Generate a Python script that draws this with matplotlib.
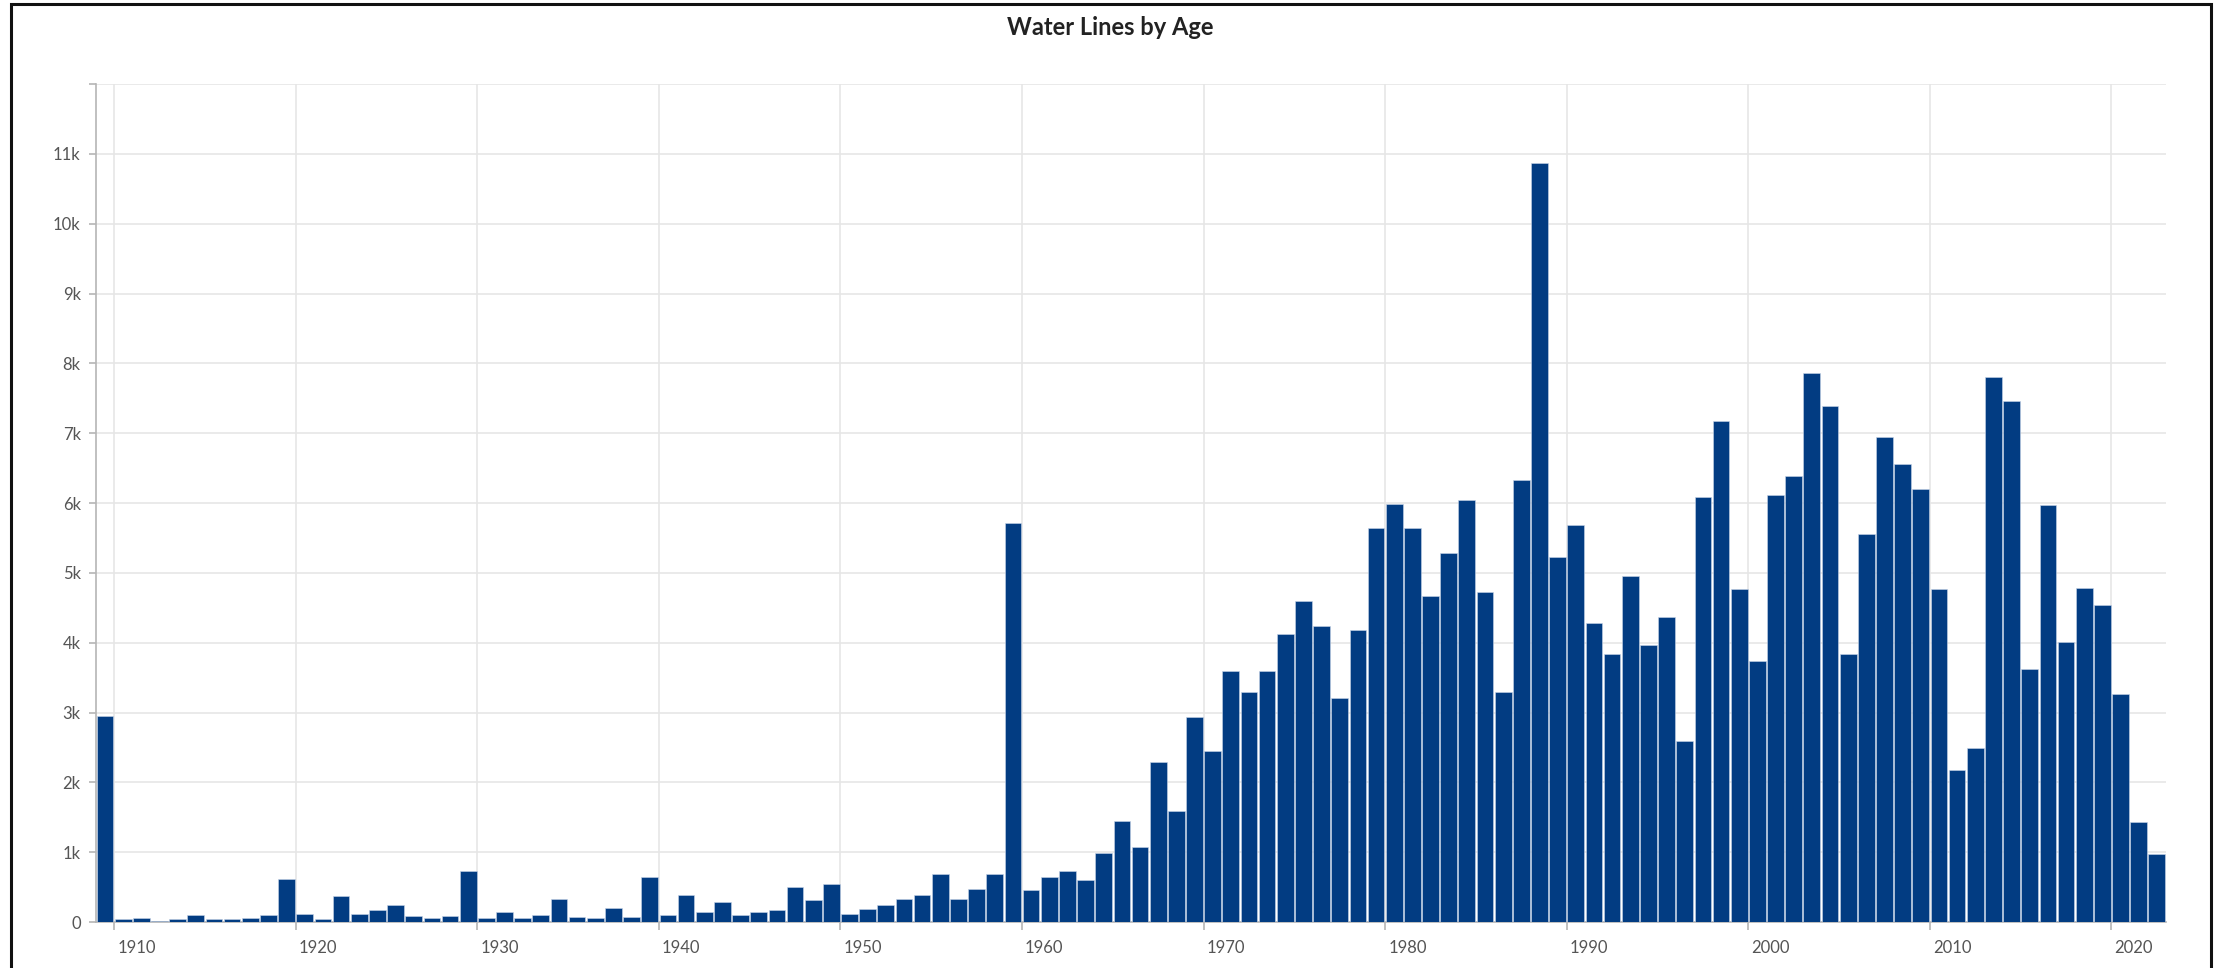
import numpy as np
import matplotlib
matplotlib.use("Agg")
import matplotlib.pyplot as plt
import matplotlib.transforms as mtransforms
from matplotlib.patches import Rectangle

# 設置年ごとの水道管延長（本数）
years = np.arange(1909, 2023)
counts = [
    2950, 40, 60, 15, 40, 100, 40, 40, 60, 100,          # 1909-1918
    610, 120, 40, 375, 120, 165, 250, 80, 60, 80,         # 1919-1928
    735, 60, 145, 60, 100, 335, 75, 55, 205, 75,          # 1929-1938
    645, 100, 390, 140, 285, 100, 140, 165, 500, 310,     # 1939-1948
    540, 120, 180, 250, 330, 390, 690, 330, 480, 690,     # 1949-1958
    5710, 460, 645, 730, 605, 985, 1450, 1070, 2290, 1595,  # 1959-1968
    2940, 2450, 3595, 3295, 3595, 4120, 4600, 4245, 3215, 4180,  # 1969-1978
    5640, 5980, 5640, 4665, 5280, 6050, 4730, 3295, 6330, 10875,  # 1979-1988
    5230, 5680, 4285, 3845, 4960, 3960, 4365, 2590, 6080, 7170,  # 1989-1998
    4770, 3740, 6120, 6385, 7855, 7385, 3840, 5550, 6950, 6555,  # 1999-2008
    6195, 4770, 2170, 2490, 7810, 7460, 3630, 5970, 4010, 4790,  # 2009-2018
    4540, 3270, 1430, 980,                                 # 2019-2022
]

x_ticks = list(range(1910, 2021, 10))
y_ticks = list(range(0, 12001, 1000))
y_labels = ["0"] + [f"{v // 1000}k" for v in y_ticks[1:-1]] + [""]

title = "Water Lines by Age"
bar_color = "#023c82"
grid_color = "#e6e6e6"
text_color = "#555555"

plt.rcParams["font.family"] = ["Lato", "DejaVu Sans"]

fig = plt.figure(figsize=(22.21, 9.68), dpi=100)
ax = fig.add_axes([0.0432, 0.0475, 0.9320, 0.8657])

ax.bar(years + 0.04, counts, width=0.92, align="edge",
       color=bar_color, edgecolor="#c9d5e8", linewidth=0.4, zorder=3)

ax.set_xlim(1909, 2023)
ax.set_ylim(0, 12000)

ax.set_xticks(x_ticks)
ax.set_xticklabels([str(y) for y in x_ticks])
ax.set_yticks(y_ticks)
ax.set_yticklabels(y_labels)

ax.grid(True, color=grid_color, linewidth=1.2, zorder=0)
ax.set_axisbelow(True)

for s in ["top", "right"]:
    ax.spines[s].set_visible(False)
for s in ["left", "bottom"]:
    ax.spines[s].set_color("#b5b5b5")
    ax.spines[s].set_linewidth(1.2)

ax.tick_params(axis="x", length=6, width=1.2, color="#b5b5b5",
               labelsize=12, labelcolor=text_color, pad=7)
ax.tick_params(axis="y", length=5, width=1.2, color="#b5b5b5",
               labelsize=12, labelcolor=text_color, pad=6)

# ラベルを目盛りの右側に寄せる
offset = mtransforms.ScaledTranslation(3 / 100, 0, fig.dpi_scale_trans)
for lbl in ax.get_xticklabels():
    lbl.set_ha("left")
    lbl.set_transform(lbl.get_transform() + offset)

fig.text(0.5, 0.972, title, ha="center", va="center",
         fontsize=17, fontweight="bold", color="#222222")

# 外枠
frame = Rectangle((0.005, -0.02), 0.9905, 1.0155, transform=fig.transFigure,
                  fill=False, edgecolor="#111111", linewidth=2.2)
fig.patches.append(frame)

fig.savefig("out.png", dpi=100)
